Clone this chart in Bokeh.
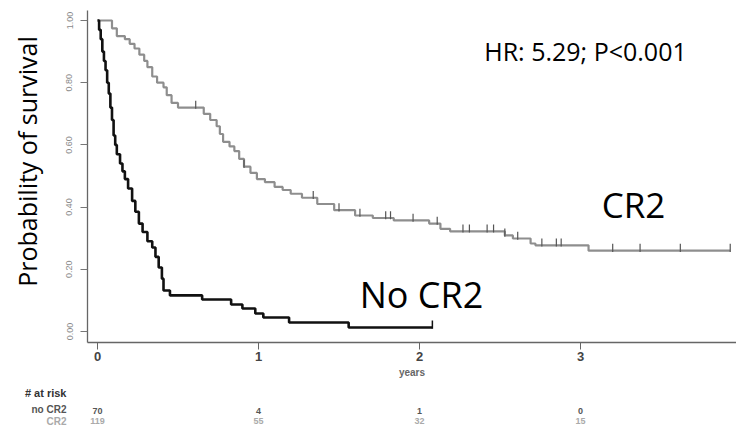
import math
from bokeh.plotting import figure
from bokeh.models import Label, FixedTicker, Range1d, LinearAxis
from bokeh.layouts import column
from bokeh.core.properties import value
from bokeh.embed import file_html
from bokeh.resources import INLINE

# ---------------- data ----------------
# No CR2 (black): event times (years) and survival after each step
nocr2_times = [0.0, 0.01, 0.02, 0.03, 0.04, 0.05, 0.06, 0.07, 0.08, 0.09, 0.10, 0.11,
               0.12, 0.14, 0.155, 0.17, 0.19, 0.215, 0.235, 0.257, 0.28, 0.31, 0.34,
               0.36, 0.38, 0.40, 0.41, 0.45, 0.65, 0.83, 0.90, 0.98, 1.03, 1.19, 1.56]
nocr2_surv = [1.0, 0.97, 0.94, 0.90, 0.87, 0.84, 0.80, 0.765, 0.72, 0.68, 0.63, 0.60,
              0.57, 0.54, 0.515, 0.49, 0.46, 0.42, 0.385, 0.347, 0.32, 0.29, 0.27,
              0.24, 0.206, 0.17, 0.132, 0.116, 0.103, 0.087, 0.074, 0.058, 0.045, 0.029, 0.013]
nocr2_end = 2.08
nocr2_censor = [2.08]

# CR2 (grey)
cr2_times = [0.0, 0.09, 0.12, 0.17, 0.20, 0.23, 0.26, 0.29, 0.31, 0.34, 0.37, 0.41, 0.43,
             0.46, 0.50, 0.66, 0.70, 0.74, 0.76, 0.78, 0.82, 0.85, 0.88, 0.91, 0.95, 0.99,
             1.04, 1.10, 1.15, 1.20, 1.27, 1.365, 1.47, 1.60, 1.71, 1.84, 2.06, 2.13, 2.19,
             2.53, 2.58, 2.69, 2.72, 3.05]
cr2_surv = [1.0, 0.975, 0.95, 0.94, 0.925, 0.91, 0.89, 0.87, 0.85, 0.82, 0.80, 0.785, 0.76,
            0.735, 0.72, 0.70, 0.68, 0.66, 0.635, 0.61, 0.595, 0.58, 0.555, 0.53, 0.51, 0.49,
            0.48, 0.465, 0.455, 0.443, 0.43, 0.41, 0.39, 0.373, 0.365, 0.357, 0.347, 0.33, 0.322,
            0.309, 0.299, 0.283, 0.277, 0.26]
cr2_end = 3.93
cr2_censor = [0.61, 0.91, 1.34, 1.50, 1.63, 1.79, 1.82, 1.96, 2.11, 2.27, 2.31, 2.42, 2.46,
              2.53, 2.61, 2.76, 2.85, 2.88, 3.20, 3.37, 3.62, 3.93]

x_ticks = [0, 1, 2, 3, 4]
y_ticks = [0.0, 0.2, 0.4, 0.6, 0.8, 1.0]
y_tick_labels = ["0.00", "0.20", "0.40", "0.60", "0.80", "1.00"]
risk_times = [0, 1, 2, 3]
risk_nocr2 = [70, 4, 1, 0]
risk_cr2 = [119, 55, 32, 15]
risk_groups = ["no CR2", "CR2"]

# ---------------- layout ----------------
W, H = 736, 434
H1 = 386                          # main plot height; the risk table sits below
FL, FT, FB = 87, 10, 342          # frame left/top/bottom in pixels
PX_PER_YR = 161.0
X_ZERO_PX = 97
PX_PER_UNIT = 311.0
Y_ZERO_PX = 331

x_start = (FL - X_ZERO_PX) / PX_PER_YR
x_end = (W - X_ZERO_PX) / PX_PER_YR
y_start = (Y_ZERO_PX - FB) / PX_PER_UNIT
y_end = (Y_ZERO_PX - FT) / PX_PER_UNIT


def xd(px):
    return (px - X_ZERO_PX) / PX_PER_YR


def yd(py):
    return (Y_ZERO_PX - py) / PX_PER_UNIT


p = figure(width=W, height=H1, output_backend="svg", toolbar_location=None,
           x_range=Range1d(x_start, x_end), y_range=Range1d(y_start, y_end),
           min_border_left=FL, min_border_top=FT, min_border_right=0,
           min_border_bottom=H1 - FB)
p.outline_line_color = None
p.xgrid.visible = False
p.ygrid.visible = False
p.background_fill_color = "white"
p.border_fill_color = "white"

# y axis
ya = p.yaxis[0]
ya.ticker = FixedTicker(ticks=y_ticks)
ya.major_label_overrides = {t: l for t, l in zip(y_ticks, y_tick_labels)}
ya.major_label_orientation = "vertical"
ya.major_label_text_font_size = "9px"
ya.major_label_text_color = "#8a8a8a"
ya.major_label_text_font = "Liberation Sans"
ya.major_label_standoff = 8
ya.major_tick_out = 7
ya.major_tick_in = 0
ya.minor_tick_out = 0
ya.minor_tick_in = 0
ya.axis_line_color = "#666666"
ya.major_tick_line_color = "#777777"
ya.axis_line_width = 1.3

# y title placed via an extra axis (pixel-based range inside the frame)
frame_h = FB - FT
p.extra_y_ranges = {"lab": Range1d(0, frame_h)}
title_pos = FB - 161
lab_axis = LinearAxis(y_range_name="lab", ticker=FixedTicker(ticks=[title_pos]),
                      major_label_overrides={title_pos: "Probability of survival"},
                      major_label_orientation="vertical",
                      major_label_text_font="Open Sans",
                      major_label_text_font_size="25px",
                      major_label_text_color="black",
                      major_label_standoff=14,
                      axis_line_color=None, major_tick_line_color=None,
                      minor_tick_line_color=None)
p.add_layout(lab_axis, "left")

# x axis
xa = p.xaxis[0]
xa.ticker = FixedTicker(ticks=x_ticks)
xa.major_label_text_font_size = "13px"
xa.major_label_text_font_style = "bold"
xa.major_label_text_font = "Liberation Sans"
xa.major_label_text_color = "#444444"
xa.major_label_standoff = 2
xa.major_tick_out = 7
xa.major_tick_in = 0
xa.minor_tick_out = 0
xa.minor_tick_in = 0
xa.axis_line_color = "#666666"
xa.major_tick_line_color = "#666666"
xa.axis_line_width = 1.3
xa.axis_label = "years"
xa.axis_label_text_font = "Liberation Sans"
xa.axis_label_text_font_size = "10px"
xa.axis_label_text_font_style = "bold"
xa.axis_label_text_color = "#666666"
xa.axis_label_standoff = 3


def step_xy(times, survs, end):
    xs, ys = [], []
    for i, (t, s) in enumerate(zip(times, survs)):
        if i > 0:
            xs.append(t)
            ys.append(survs[i - 1])
        xs.append(t)
        ys.append(s)
    xs.append(end)
    ys.append(survs[-1])
    return xs, ys


def surv_at(times, survs, t):
    s = survs[0]
    for tt, ss in zip(times, survs):
        if tt <= t:
            s = ss
    return s


gx, gy = step_xy(cr2_times, cr2_surv, cr2_end)
p.line(gx, gy, line_color="#8e8e8e", line_width=2.2)
bx, by = step_xy(nocr2_times, nocr2_surv, nocr2_end)
p.line(bx, by, line_color="#111111", line_width=2.6)

# censor marks
gcs = [surv_at(cr2_times, cr2_surv, t) for t in cr2_censor]
p.segment(x0=cr2_censor, x1=cr2_censor, y0=[s - 0.004 for s in gcs],
          y1=[s + 0.022 for s in gcs], line_color="#555555", line_width=1.2)
bcs = [surv_at(nocr2_times, nocr2_surv, t) for t in nocr2_censor]
p.segment(x0=nocr2_censor, x1=nocr2_censor, y0=[s - 0.004 for s in bcs],
          y1=[s + 0.022 for s in bcs], line_color="#111111", line_width=1.5)


def add_label(text, px, py, size):
    p.add_layout(Label(x=xd(px), y=yd(py), text=text, text_font="Open Sans",
                       text_font_size=size, text_color="black", text_align="center",
                       text_baseline="middle"))


add_label("HR: 5.29; P<0.001", 585, 50, "25px")
add_label("CR2", 633, 204, "35px")
add_label("No CR2", 421, 294, "36px")


# ---------------- risk table: three thin strips below the plot ----------------
def make_strip(top, bottom, row_y, label, size, label_color, numbers=None, num_color=None):
    s = figure(width=W, height=bottom - top, output_backend="svg", toolbar_location=None,
               x_range=Range1d(x_start, x_end), y_range=Range1d(bottom, top),
               x_axis_type=None, y_axis_location="left",
               min_border_left=FL, min_border_right=0, min_border_top=0,
               min_border_bottom=0)
    s.outline_line_color = None
    s.xgrid.visible = False
    s.ygrid.visible = False
    s.background_fill_color = "white"
    s.border_fill_color = "white"
    ax = s.yaxis[0]
    ax.ticker = FixedTicker(ticks=[row_y])
    ax.major_label_overrides = {row_y: label}
    ax.major_label_text_font = "Liberation Sans"
    ax.major_label_text_font_size = size
    ax.major_label_text_font_style = "bold"
    ax.major_label_text_color = label_color
    ax.major_label_standoff = FL - 66
    ax.major_tick_out = 0
    ax.major_tick_in = 0
    ax.minor_tick_out = 0
    ax.minor_tick_in = 0
    ax.axis_line_color = None
    ax.major_tick_line_color = None
    ax.minor_tick_line_color = None
    if numbers is not None:
        s.text(x=risk_times, y=[row_y] * len(risk_times), text=[str(v) for v in numbers],
               text_font=value("Liberation Sans"), text_font_size="9px",
               text_font_style="bold", text_color=num_color, text_align="center",
               text_baseline="middle")
    return s


s0 = make_strip(H1, 401, 392, "# at risk", "11px", "#333333")
s1 = make_strip(401, 415, 410, risk_groups[0], "10px", "#555555", risk_nocr2, "#555555")
s2 = make_strip(415, H, 420, risk_groups[1], "10px", "#aaaaaa", risk_cr2, "#aaaaaa")

layout = column(p, s0, s1, s2, spacing=0)
open("out.html", "w").write(file_html(layout, INLINE))
